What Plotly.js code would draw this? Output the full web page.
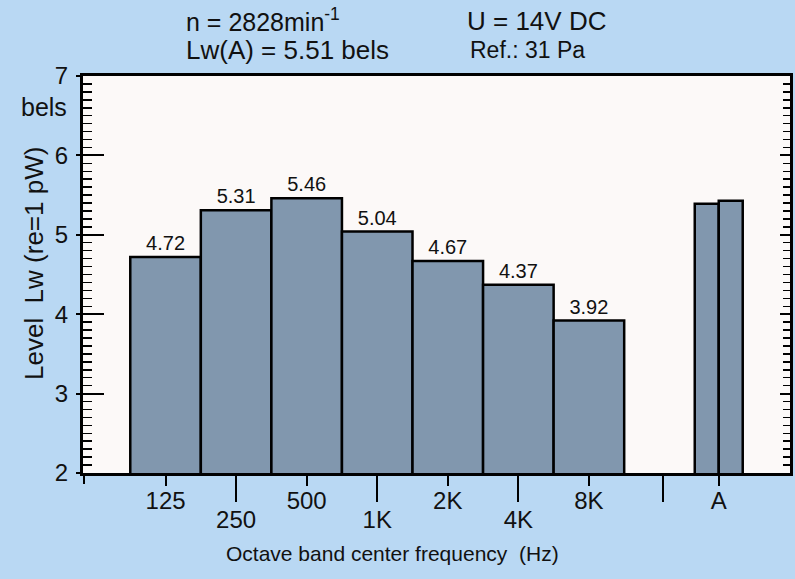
<!DOCTYPE html>
<html><head><meta charset="utf-8">
<script src="https://cdn.plot.ly/plotly-3.0.1.min.js"></script>
<style>html,body{margin:0;padding:0;background:#b9d8f3}</style>
</head><body><div id="chart" style="width:795px;height:579px"></div>
<script>
// ---- data ----
const bands = ['125', '250', '500', '1K', '2K', '4K', '8K'];
const bandLevels = [4.72, 5.31, 5.46, 5.04, 4.67, 4.37, 3.92];
const aLabel = 'A';
const aLevels = [5.39, 5.43];
const yTicks = [2, 3, 4, 5, 6, 7];
const yTickText = ['2', '3', '4', '5', '6', '7'];

// ---- layout constants ----
const FONT = 'Liberation Sans, Arial, Helvetica, sans-serif';
const W = 795, H = 579;
const M = {l: 83, r: 5, t: 76, b: 106};
const xRange = [-1.17, 8.85];
const sepPos = 7.05;     // separator between octave bands and A
const aPos = 7.84;       // centre of A group
const aHalf = 0.17;
const barFill = '#8197ae';

const bandX = bands.map((_, i) => i);
const shortIdx = bandX.filter(i => i % 2 === 0);
const longIdx = bandX.filter(i => i % 2 === 1);

const plotW = W - M.l - M.r, plotH = H - M.t - M.b;
const px = x => (x - M.l) / plotW;
const py = y => (H - M.b - y) / plotH;

const traces = [
  {
    type: 'bar', x: bandX, y: bandLevels, width: 1,
    marker: {color: barFill, line: {color: '#000', width: 2.5}},
    text: bandLevels.map(v => v.toFixed(2)), textposition: 'outside',
    textfont: {family: FONT, size: 20, color: '#111'}, cliponaxis: false,
    hoverinfo: 'skip'
  },
  {
    type: 'bar', x: [aPos - aHalf, aPos + aHalf], y: aLevels, width: 2 * aHalf,
    marker: {color: barFill, line: {color: '#000', width: 2.5}},
    hoverinfo: 'skip'
  },
  {type: 'scatter', x: [], y: [], xaxis: 'x2', yaxis: 'y2', hoverinfo: 'skip'},
  {type: 'scatter', x: [], y: [], xaxis: 'x3', yaxis: 'y3', hoverinfo: 'skip'},
  {type: 'scatter', x: [], y: [], xaxis: 'x4', yaxis: 'y', hoverinfo: 'skip'}
];

const tickFont = {family: FONT, size: 24, color: '#111'};
const plainX = {range: xRange, showgrid: false, zeroline: false, showline: false,
  tickwidth: 2, tickcolor: '#000', tickmode: 'array', ticks: 'outside'};

const layout = {
  width: W, height: H,
  margin: M,
  paper_bgcolor: '#b9d8f3',
  plot_bgcolor: '#fcf9f8',
  showlegend: false,
  barmode: 'overlay',
  font: {family: FONT, color: '#111'},
  xaxis: {
    range: xRange, showgrid: false, zeroline: false,
    showline: true, linewidth: 3, linecolor: '#000', mirror: true,
    ticks: 'outside', ticklen: 10, tickwidth: 2, tickcolor: '#000',
    tickmode: 'array',
    tickvals: shortIdx.concat([aPos]),
    ticktext: shortIdx.map(i => bands[i]).concat([aLabel]),
    tickfont: tickFont, ticklabelstandoff: -6
  },
  xaxis2: Object.assign({}, plainX, {
    overlaying: 'x', anchor: 'y', side: 'bottom', ticklen: 28,
    tickvals: longIdx, ticktext: longIdx.map(i => bands[i]),
    tickfont: tickFont, ticklabelstandoff: -3
  }),
  xaxis3: Object.assign({}, plainX, {
    overlaying: 'x', anchor: 'y', side: 'bottom', ticklen: 10,
    tickvals: [xRange[0] + 0.01], showticklabels: false
  }),
  xaxis4: Object.assign({}, plainX, {
    overlaying: 'x', anchor: 'y', side: 'bottom', ticklen: 28,
    tickvals: [sepPos], showticklabels: false
  }),
  yaxis: {
    range: [2, 7], showgrid: false, zeroline: false,
    showline: true, linewidth: 3, linecolor: '#000', mirror: true,
    ticks: 'inside', ticklen: 21, tickwidth: 2, tickcolor: '#000',
    tickmode: 'array', tickvals: yTicks, showticklabels: false,
    minor: {ticks: 'inside', ticklen: 9, tickwidth: 1.5, tickcolor: '#000', dtick: 0.1, tick0: 2, showgrid: false}
  },
  yaxis2: {
    overlaying: 'y', anchor: 'x', side: 'left',
    range: [2, 7], showgrid: false, zeroline: false, showline: false,
    ticks: 'outside', ticklen: 6, tickwidth: 2, tickcolor: '#000',
    tickmode: 'array', tickvals: yTicks, ticktext: yTickText,
    tickfont: tickFont, ticklabelstandoff: 3
  },
  yaxis3: {
    overlaying: 'y', anchor: 'x', side: 'right',
    range: [2, 7], showgrid: false, zeroline: false, showline: false,
    ticks: 'inside', ticklen: 10, tickwidth: 2, tickcolor: '#000',
    tickmode: 'array', tickvals: yTicks, showticklabels: false,
    minor: {ticks: 'inside', ticklen: 7, tickwidth: 1.5, tickcolor: '#000', dtick: 0.1, tick0: 2, showgrid: false}
  },
  annotations: [
    {text: 'n = 2828min<sup>-1</sup>', x: px(184), y: py(20), xanchor: 'left', yanchor: 'middle', font: {size: 25}},
    {text: 'Lw(A) = 5.51 bels', x: px(184), y: py(50), xanchor: 'left', yanchor: 'middle', font: {size: 26}},
    {text: 'U = 14V DC', x: px(465), y: py(21), xanchor: 'left', yanchor: 'middle', font: {size: 26}},
    {text: 'Ref.: 31 Pa', x: px(468), y: py(50), xanchor: 'left', yanchor: 'middle', font: {size: 23}},
    {text: 'bels', x: px(44), y: py(107), xanchor: 'center', yanchor: 'middle', font: {size: 25}},
    {text: 'Level  Lw (re=1 pW)', textangle: -90, x: px(34), y: py(264), xanchor: 'center', yanchor: 'middle', font: {size: 26}},
    {text: 'Octave band center frequency  (Hz)', x: px(392), y: py(553), xanchor: 'center', yanchor: 'middle', font: {size: 21}}
  ].map(a => Object.assign({xref: 'paper', yref: 'paper', showarrow: false}, a, {font: Object.assign({family: FONT, color: '#111'}, a.font)}))
};

Plotly.newPlot('chart', traces, layout, {displayModeBar: false, staticPlot: true});
</script></body></html>
